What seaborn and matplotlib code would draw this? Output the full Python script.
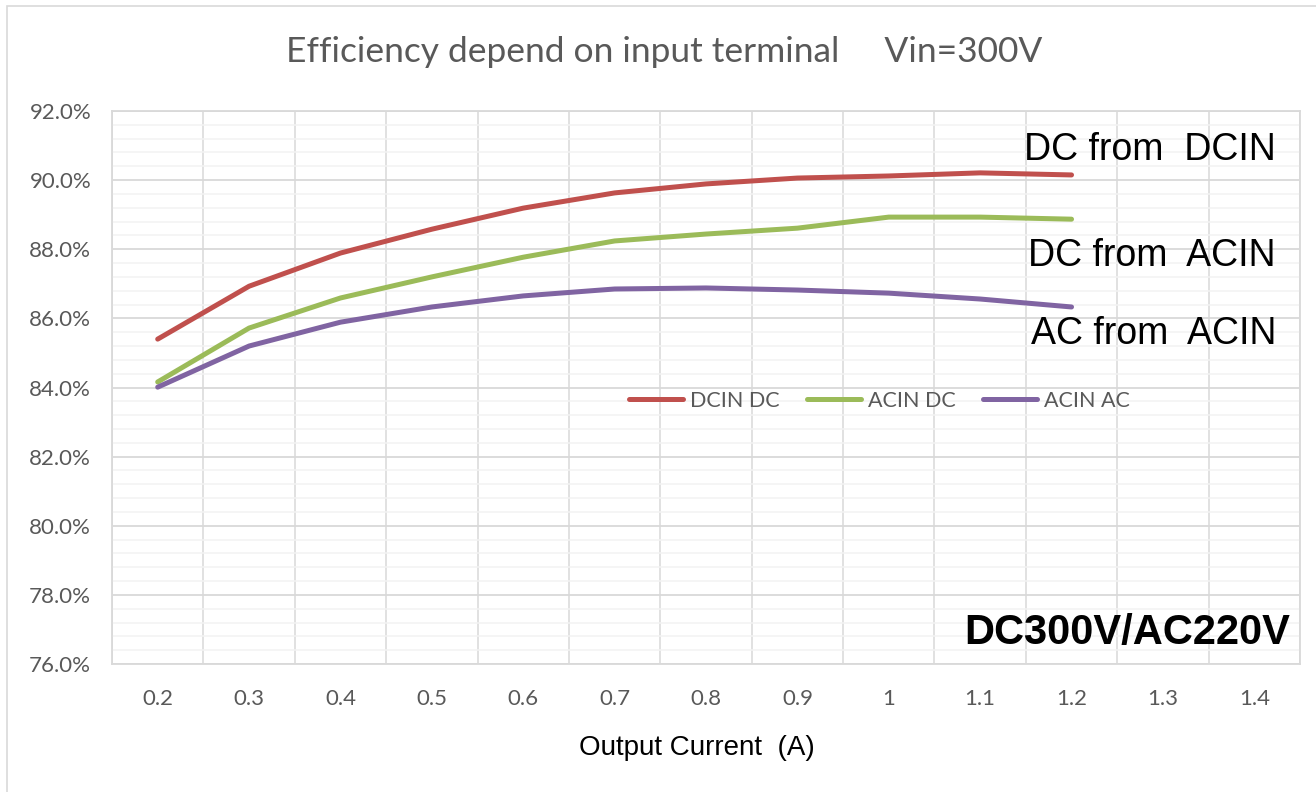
import numpy as np
import pandas as pd
import seaborn as sns
import matplotlib.pyplot as plt
from matplotlib.ticker import MultipleLocator, FuncFormatter
from matplotlib.patches import Rectangle

# Values
current = [0.2, 0.3, 0.4, 0.5, 0.6, 0.7, 0.8, 0.9, 1.0, 1.1, 1.2]
dcin_dc = [85.40, 86.93, 87.89, 88.58, 89.19, 89.63, 89.89, 90.06, 90.12, 90.21, 90.15]
acin_dc = [84.16, 85.72, 86.59, 87.20, 87.77, 88.24, 88.44, 88.61, 88.93, 88.93, 88.87]
acin_ac = [84.01, 85.20, 85.89, 86.33, 86.65, 86.85, 86.88, 86.82, 86.73, 86.56, 86.33]
tick_labels = ['0.2', '0.3', '0.4', '0.5', '0.6', '0.7', '0.8', '0.9', '1', '1.1', '1.2', '1.3', '1.4']
series_names = ['DCIN DC', 'ACIN DC', 'ACIN AC']
colors = ['#C0504D', '#9BBB59', '#8064A2']

df = pd.DataFrame({'current': current, 'DCIN DC': dcin_dc, 'ACIN DC': acin_dc, 'ACIN AC': acin_ac})
df = df.melt(id_vars='current', var_name='series', value_name='eff')

sns.set_style('white')
plt.rcParams['font.family'] = ['Lato', 'DejaVu Sans']

fig = plt.figure(figsize=(13.16, 7.92), dpi=100)
ax = fig.add_axes([112 / 1316, 1 - 664 / 792, (1300 - 112) / 1316, (664 - 111) / 792])

# outer chart frame (only top/left are visible in the crop)
fig.patches.append(Rectangle((7 / 1316, -0.1), 1.2, 1 - 6 / 792 + 0.1, transform=fig.transFigure,
                             fill=False, edgecolor='#D9D9D9', linewidth=1.2))

sns.lineplot(data=df, x='current', y='eff', hue='series', hue_order=series_names,
             palette=colors, linewidth=3.6, ax=ax, legend=True)
for ln in ax.get_lines():
    ln.set_solid_capstyle('round')

ax.set_xlim(0.15, 1.45)
ax.set_ylim(76, 92)
ax.set_xticks(np.arange(0.2, 1.45, 0.1))
ax.set_xticklabels(tick_labels)
ax.set_xticks(np.arange(0.15, 1.46, 0.1), minor=True)
ax.yaxis.set_major_locator(MultipleLocator(2))
ax.yaxis.set_minor_locator(MultipleLocator(0.4))
ax.yaxis.set_major_formatter(FuncFormatter(lambda v, p: f'{v:.1f}%'))

ax.grid(False)
ax.grid(which='major', axis='y', color='#D9D9D9', linewidth=1.3)
ax.grid(which='minor', axis='y', color='#F2F2F2', linewidth=1.1)
ax.grid(which='minor', axis='x', color='#D9D9D9', linewidth=1.1)
ax.set_axisbelow(True)
for s in ax.spines.values():
    s.set_color('#D9D9D9')
    s.set_linewidth(1.3)

ax.tick_params(which='both', length=0)
ax.tick_params(axis='x', labelsize=16, labelcolor='#595959', pad=18)
ax.tick_params(axis='y', labelsize=16, labelcolor='#595959', pad=15)

ax.set_xlabel('Output Current  (A)', fontsize=20, color='black', family=['Liberation Sans'])
ax.xaxis.set_label_coords((697 - 112) / 1188, -(748 - 664) / 553)
ax.xaxis.label.set_va('center')
ax.set_ylabel('')

fig.text(0.505, 1 - 52 / 792, 'Efficiency depend on input terminal     Vin=300V',
         ha='center', va='center', fontsize=25.5, color='#595959')

leg = ax.legend(loc='center', bbox_to_anchor=(0.646, 0.4756), ncol=3, frameon=False,
                fontsize=15.5, handlelength=2.5, columnspacing=1.3, handletextpad=0.3)
for t in leg.get_texts():
    t.set_color('#595959')
for h in leg.get_lines():
    h.set_linewidth(3.6)
    h.set_solid_capstyle('round')

ann = dict(ha='right', va='center', fontsize=27, color='black', family=['Liberation Sans'])
fig.text(1276 / 1316, 1 - 150 / 792, 'DC from  DCIN', **ann)
fig.text(1276 / 1316, 1 - 256 / 792, 'DC from  ACIN', **ann)
fig.text(1276 / 1316, 1 - 334 / 792, 'AC from  ACIN', **ann)
fig.text(1290 / 1316, 1 - 633 / 792, 'DC300V/AC220V', ha='right', va='center', fontsize=30,
         fontweight='bold', color='black', family=['Liberation Sans'])

fig.savefig('out.png', dpi=100)
